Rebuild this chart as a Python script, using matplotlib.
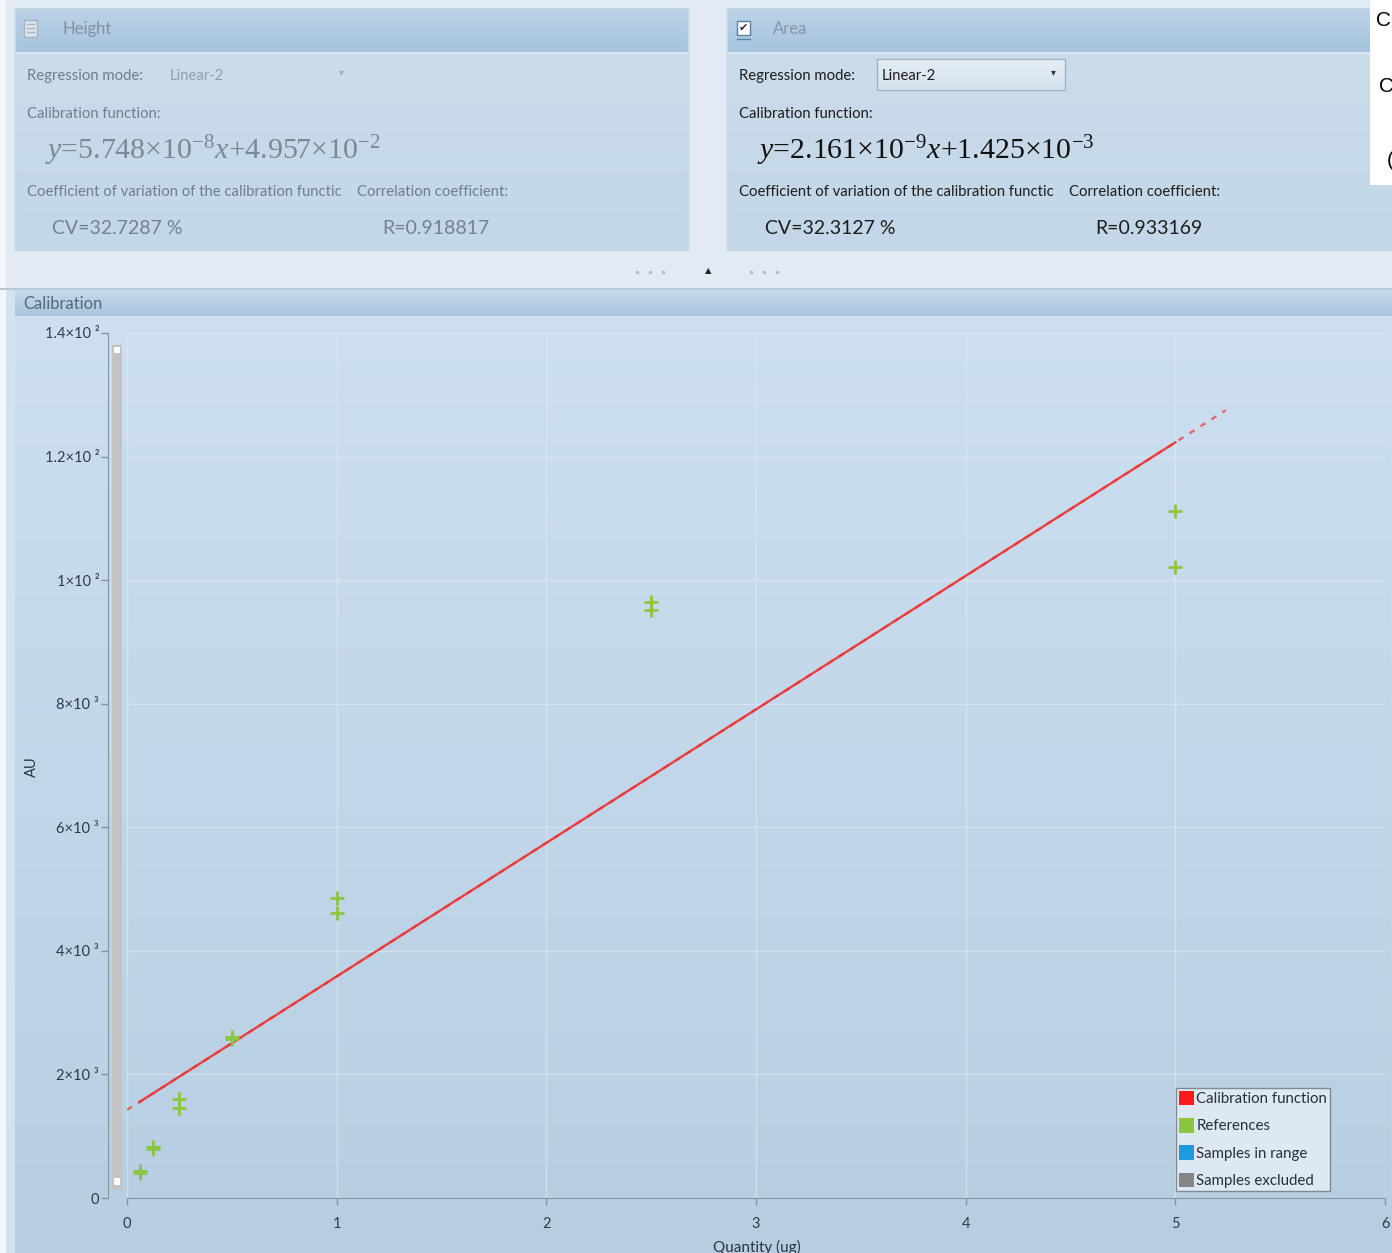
import numpy as np
import matplotlib.pyplot as plt
from matplotlib.patches import Rectangle, Patch
from matplotlib.colors import LinearSegmentedColormap

plt.rcParams['font.family'] = ['Lato', 'DejaVu Sans']
plt.rcParams['mathtext.fontset'] = 'custom'
plt.rcParams['mathtext.rm'] = 'Liberation Serif'
plt.rcParams['mathtext.it'] = 'Liberation Serif:italic'

# reference points: quantity (ug) vs. area response (AU)
quantity = [0.0625, 0.0625, 0.125, 0.125, 0.25, 0.25, 0.5, 0.5,
            1.0, 1.0, 2.5, 2.5, 5.0, 5.0]
au = [440, 400, 830, 790, 1600, 1460, 2600, 2570,
      4850, 4620, 9640, 9520, 11120, 10220]

# calibration function (area), in plot units
slope = 2.161e3
intercept = 1.425e3

y_ticks = [0, 2000, 4000, 6000, 8000, 10000, 12000, 14000]
y_tick_labels = ['0', '2×10 ³', '4×10 ³', '6×10 ³', '8×10 ³',
                 '1×10 ²', '1.2×10 ²', '1.4×10 ²']
x_ticks = [0, 1, 2, 3, 4, 5, 6]

legend_labels = ['Calibration function', 'References',
                 'Samples in range', 'Samples excluded']
legend_colors = ['#ff1a1a', '#8cc63e', '#1e9be0', '#858585']

W, H = 1392, 1253
fig = plt.figure(figsize=(W / 100, H / 100), dpi=100)

# window chrome drawn in pixel coordinates
bg = fig.add_axes([0, 0, 1, 1])
bg.set_xlim(0, W)
bg.set_ylim(H, 0)
bg.axis('off')


def rect(x0, y0, x1, y1, fc, ec='none', lw=0, z=1):
    bg.add_patch(Rectangle((x0, y0), x1 - x0, y1 - y0, facecolor=fc,
                           edgecolor=ec, linewidth=lw, zorder=z))


def grad(x0, y0, x1, y1, c_top, c_bot, z=1):
    cmap = LinearSegmentedColormap.from_list('g', [c_top, c_bot])
    bg.imshow(np.linspace(0, 1, 256).reshape(-1, 1), cmap=cmap,
              extent=(x0, x1, y1, y0), aspect='auto', origin='upper',
              zorder=z, interpolation='bilinear')


rect(0, 0, W, H, '#e2ebf4', z=0)
rect(0, 0, 6, H, '#f4f7fa', z=0.5)

# --- top panels ---
for px0, px1 in [(15, 688), (727, W + 2)]:
    grad(px0, 8, px1, 52, '#bcd3e7', '#a5c3dd', z=1)
    rect(px0, 52, px1, 54, '#dae6f1', z=2)
    grad(px0, 54, px1, 250, '#cbdcea', '#c3d7e8', z=1)
    rect(px0, 8, px1, 250, 'none', ec='#c9d7e3', lw=1, z=3)

# right white box, partly hidden window
rect(1370, 0, W, 185, 'white', z=4)
for yy, xx, ch in [(20, 1376, 'C'), (87, 1379, 'C'), (160, 1387, '(')]:
    bg.text(xx, yy, ch, fontsize=15, color='black', va='center',
            family=['Liberation Sans', 'DejaVu Sans'], zorder=5, clip_on=True)

lab = 10.7
big = 14
eq = 21.5

# Height panel (disabled)
rect(24, 20, 37, 37, '#dbe4ec', ec='#a5b2bf', lw=1, z=4)
for yy in (24, 28, 32):
    bg.plot([27, 34], [yy, yy], color='#a9b6c2', lw=1, zorder=5)
grey_txt = '#6f7e8c'
bg.text(62, 29, 'Height', fontsize=12, color='#7f91a3', va='center', zorder=5)
bg.text(27, 76, 'Regression mode:', fontsize=lab, color=grey_txt, va='center', zorder=5)
bg.text(170, 76, 'Linear-2', fontsize=lab, color='#929fab', va='center', zorder=5)
bg.text(341, 72, '▾', fontsize=7, color='#a2adb7', va='center', ha='center',
        family='DejaVu Sans', zorder=5)
bg.text(27, 114, 'Calibration function:', fontsize=lab, color=grey_txt,
        va='center', zorder=5)
bg.text(45, 151,
        r'$\mathit{y}$=5.748×10$^{\mathregular{-8}}$$\mathit{x}$+4.957×10$^{\mathregular{-2}}$',
        fontsize=eq, color='#7b8895', va='center', zorder=5,
        family='Liberation Serif')
bg.text(27, 192, 'Coefficient of variation of the calibration functic',
        fontsize=lab, color=grey_txt, va='center', zorder=5)
bg.text(357, 192, 'Correlation coefficient:', fontsize=lab, color=grey_txt,
        va='center', zorder=5)
bg.text(52, 228, 'CV=32.7287 %', fontsize=big, color='#73828f', va='center', zorder=5)
bg.text(382, 228, 'R=0.918817', fontsize=big, color='#73828f', va='center', zorder=5)

# Area panel (active)
dark = '#1d1d1d'
rect(737, 21, 750, 35, 'white', ec='#5a7fa8', lw=1, z=4)
bg.text(743.5, 28, '✔', fontsize=8, color='#1f2a38', ha='center', va='center',
        family='DejaVu Sans', zorder=5)
bg.plot([737, 750], [39, 39], color='#5a7fa8', lw=1, zorder=5)
bg.text(773, 29, 'Area', fontsize=12, color='#8496a8', va='center', zorder=5)
bg.text(739, 76, 'Regression mode:', fontsize=lab, color=dark, va='center', zorder=5)
grad(877, 59, 1065, 90, '#e6eef5', '#d4e1ec', z=4)
rect(877, 59, 1065, 90, 'none', ec='#9db3c7', lw=1, z=5)
bg.text(882, 76, 'Linear-2', fontsize=lab, color=dark, va='center', zorder=6)
bg.text(1053, 72, '▾', fontsize=7, color='#333333', va='center', ha='center',
        family='DejaVu Sans', zorder=6)
bg.text(739, 114, 'Calibration function:', fontsize=lab, color=dark,
        va='center', zorder=5)
bg.text(757, 151,
        r'$\mathit{y}$=2.161×10$^{\mathregular{-9}}$$\mathit{x}$+1.425×10$^{\mathregular{-3}}$',
        fontsize=eq, color='#111111', va='center', zorder=5,
        family='Liberation Serif')
bg.text(739, 192, 'Coefficient of variation of the calibration functic',
        fontsize=lab, color=dark, va='center', zorder=5)
bg.text(1069, 192, 'Correlation coefficient:', fontsize=lab, color=dark,
        va='center', zorder=5)
bg.text(765, 228, 'CV=32.3127 %', fontsize=big, color=dark, va='center', zorder=5)
bg.text(1095, 228, 'R=0.933169', fontsize=big, color=dark, va='center', zorder=5)

# splitter handle
for xx in (637, 650, 663, 751, 764, 777):
    bg.plot(xx, 272, 'o', ms=2.5, color='#b2bcc6', mec='none', zorder=5)
bg.text(708, 271, '▲', fontsize=6, color='#222222', ha='center', va='center',
        family='DejaVu Sans', zorder=5)

# --- calibration panel ---
rect(0, 288, W, 290, '#b5c9db', z=1)
grad(15, 290, W, 316, '#c5daec', '#a9c5de', z=1)
bg.text(23, 304, 'Calibration', fontsize=12, color='#56687a', va='center', zorder=5)
grad(15, 316, W, H, '#cddff0', '#b7cee2', z=1)
rect(6, 290, 15, H, '#d6e3ee', z=1)

# zoom scrollbar next to the y axis
rect(112, 345, 122, 1190, '#c3c3c3', z=2)
rect(114, 347, 120, 353, 'white', z=3)
rect(114, 1178, 120, 1185, 'white', z=3)

bg.text(32, 767, 'AU', fontsize=10.5, color='#2a3440', rotation=90,
        ha='center', va='center', zorder=5)
bg.text(757, 1247, 'Quantity (ug)', fontsize=11, color='#2a3440',
        ha='center', va='center', zorder=5)

# --- plot ---
x0_px, x6_px = 127, 1385
y0_px, ytop_px = 1198, 333
ax = fig.add_axes([x0_px / W, (H - y0_px) / H,
                   (x6_px - x0_px) / W, (y0_px - ytop_px) / H])
ax.patch.set_alpha(0)
ax.set_xlim(0, 6)
ax.set_ylim(0, 14000)

ax.grid(True, color='#e4edf5', linewidth=1, alpha=0.55)
ax.set_axisbelow(True)
for s in ('top', 'right'):
    ax.spines[s].set_visible(False)
ax.spines['left'].set_position(('outward', 14))
ax.spines['left'].set_color('#8494a4')
ax.spines['bottom'].set_color('#8494a4')

ax.set_yticks(y_ticks)
ax.set_yticklabels(y_tick_labels)
ax.set_xticks(x_ticks)
ax.tick_params(axis='both', colors='#8494a4', labelcolor='#2f3a46',
               labelsize=10.5, length=5, width=1)
ax.tick_params(axis='x', pad=9)
ax.tick_params(axis='y', pad=1)

# calibration line: dashed extrapolation, solid over the reference range
xd = np.array([0.0, 5.24])
ax.plot(xd, slope * xd + intercept, color='#f03434', lw=1.7,
        linestyle=(0, (2.5, 3)), alpha=0.7, zorder=3)
xs = np.array([0.06, 5.0])
ax.plot(xs, slope * xs + intercept, color='#ee3030', lw=1.7, alpha=0.9, zorder=4)

ax.plot(quantity, au, '+', color='#8cc63e', ms=10, mew=2, zorder=5,
        clip_on=False)

handles = [Patch(facecolor=c, edgecolor='none') for c in legend_colors]
leg = ax.legend(handles, legend_labels, loc='lower left',
                bbox_to_anchor=((1176 - x0_px) / (x6_px - x0_px),
                                (y0_px - 1191) / (y0_px - ytop_px)),
                borderaxespad=0, fontsize=10.8, frameon=True, fancybox=False,
                facecolor='#dde8f2', edgecolor='#7d8995', framealpha=1,
                handlelength=1.0, handleheight=1.1, handletextpad=0.15,
                labelspacing=0.8, borderpad=0.2)
leg.get_frame().set_linewidth(1)
for t in leg.get_texts():
    t.set_color('#26303b')

fig.savefig('out.png', dpi=100)
